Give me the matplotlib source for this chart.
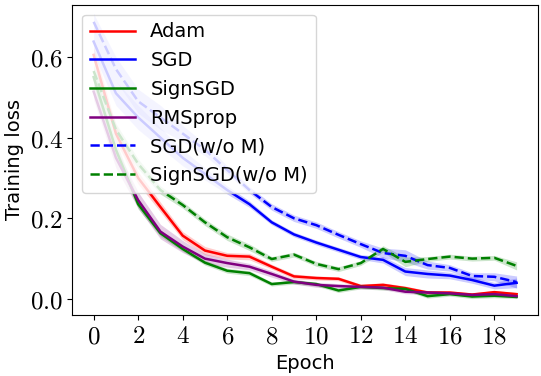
import matplotlib
matplotlib.use("Agg")
import matplotlib.pyplot as plt
import numpy as np
from matplotlib.ticker import FuncFormatter

plt.rcParams['mathtext.fontset'] = 'cm'
plt.rcParams['font.family'] = ['DejaVu Sans']

epochs = list(range(20))

adam = [0.605, 0.41, 0.30, 0.228, 0.157, 0.12, 0.107, 0.105, 0.08, 0.056,
        0.052, 0.05, 0.032, 0.035, 0.027, 0.016, 0.016, 0.011, 0.017, 0.012]
sgd = [0.638, 0.51, 0.45, 0.40, 0.35, 0.31, 0.27, 0.235, 0.19, 0.16,
       0.14, 0.122, 0.104, 0.097, 0.068, 0.062, 0.058, 0.047, 0.033, 0.04]
signsgd = [0.55, 0.37, 0.235, 0.163, 0.124, 0.09, 0.07, 0.064, 0.037, 0.042,
           0.037, 0.021, 0.03, 0.027, 0.025, 0.007, 0.012, 0.006, 0.008, 0.005]
rmsprop = [0.514, 0.35, 0.245, 0.167, 0.13, 0.10, 0.089, 0.08, 0.062, 0.043,
           0.035, 0.032, 0.03, 0.028, 0.018, 0.016, 0.014, 0.01, 0.012, 0.007]
sgd_wo = [0.687, 0.57, 0.49, 0.45, 0.41, 0.37, 0.32, 0.27, 0.228, 0.2,
          0.183, 0.159, 0.136, 0.114, 0.107, 0.084, 0.077, 0.057, 0.055, 0.042]
signsgd_wo = [0.565, 0.42, 0.335, 0.27, 0.233, 0.19, 0.153, 0.128, 0.099, 0.11,
              0.087, 0.074, 0.089, 0.124, 0.092, 0.099, 0.105, 0.1, 0.102, 0.082]

adam_sd = [0.02, 0.02, 0.015, 0.012, 0.01, 0.01, 0.008, 0.008, 0.006, 0.006,
           0.005, 0.005, 0.005, 0.005, 0.005, 0.005, 0.004, 0.004, 0.004, 0.004]
sgd_sd = [0.03, 0.03, 0.03, 0.025, 0.02, 0.015, 0.01, 0.008, 0.006, 0.006,
          0.006, 0.006, 0.006, 0.008, 0.01, 0.01, 0.008, 0.008, 0.008, 0.012]
signsgd_sd = [0.02, 0.02, 0.012, 0.008, 0.006, 0.006, 0.006, 0.006, 0.005, 0.005,
              0.005, 0.005, 0.005, 0.005, 0.005, 0.005, 0.005, 0.005, 0.005, 0.004]
rmsprop_sd = [0.02, 0.025, 0.02, 0.018, 0.015, 0.012, 0.01, 0.008, 0.008, 0.006,
              0.006, 0.006, 0.005, 0.005, 0.005, 0.005, 0.004, 0.004, 0.004, 0.004]
sgd_wo_sd = [0.02, 0.03, 0.03, 0.03, 0.02, 0.015, 0.01, 0.008, 0.008, 0.008,
             0.008, 0.008, 0.008, 0.012, 0.015, 0.01, 0.008, 0.008, 0.01, 0.015]
signsgd_wo_sd = [0.015, 0.015, 0.012, 0.01, 0.008, 0.008, 0.008, 0.008, 0.006, 0.006,
                 0.006, 0.006, 0.006, 0.008, 0.012, 0.006, 0.006, 0.006, 0.006, 0.01]

series = [
    ("Adam", adam, adam_sd, "red", "-"),
    ("SGD", sgd, sgd_sd, "blue", "-"),
    ("SignSGD", signsgd, signsgd_sd, "green", "-"),
    ("RMSprop", rmsprop, rmsprop_sd, "purple", "-"),
    ("SGD(w/o M)", sgd_wo, sgd_wo_sd, "blue", "--"),
    ("SignSGD(w/o M)", signsgd_wo, signsgd_wo_sd, "green", "--"),
]

fig = plt.figure(figsize=(5.41, 3.76), dpi=100)
ax = fig.add_axes([0.134, 0.163, 0.860, 0.824])

x = np.array(epochs)
for name, m, s, c, ls in series:
    m = np.array(m); s = np.array(s)
    ax.plot(x, m, color=c, ls=ls, lw=1.8, label=name)
    ax.fill_between(x, m - s, m + s, color=c, alpha=0.2, lw=0)

ax.set_ylim(-0.039, 0.729)
ax.set_xticks(range(0, 19, 2))
ax.set_yticks([0.0, 0.2, 0.4, 0.6])
ax.xaxis.set_major_formatter(FuncFormatter(lambda v, p: r"$%d$" % v))
ax.yaxis.set_major_formatter(FuncFormatter(lambda v, p: r"$%.1f$" % v))
ax.tick_params(labelsize=18)
ax.set_xlabel("Epoch", fontsize=14)
ax.set_ylabel("Training loss", fontsize=14)
ax.legend(loc="upper left", fontsize=14, handlelength=2.3)

fig.savefig("out.png", dpi=100)
